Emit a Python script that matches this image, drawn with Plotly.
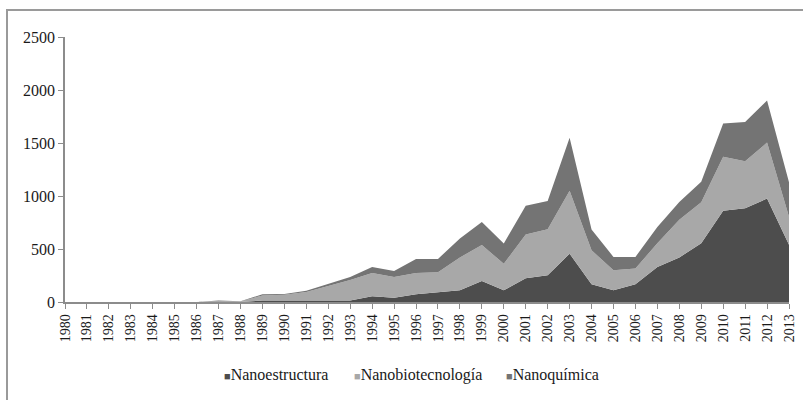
import plotly.graph_objects as go

years = list(range(1980, 2014))
nanoestructura = [0, 0, 0, 0, 0, 0, 0, 0, 0, 15, 15, 15, 15, 15,
                  54, 41, 73, 94, 112, 198, 110, 224, 252, 456, 167, 110, 167,
                  330, 420, 555, 860, 885, 976, 540]
nanobiotecnologia = [0, 0, 0, 0, 0, 0, 0, 10, 5, 47, 53, 80, 135, 193,
                     220, 195, 201, 186, 308, 340, 250, 412, 434, 594, 321, 189, 148,
                     225, 355, 385, 510, 442, 528, 265]
nanoquimica = [0, 0, 0, 0, 0, 0, 0, 5, 3, 11, 7, 10, 20, 28,
               56, 56, 132, 126, 180, 217, 191, 273, 267, 500, 195, 126, 110,
               153, 168, 195, 313, 371, 396, 325]

series = [
    ("Nanoestructura", nanoestructura, "#4d4d4d"),
    ("Nanobiotecnología", nanobiotecnologia, "#a8a8a8"),
    ("Nanoquímica", nanoquimica, "#747474"),
]
legend_ids = ["legend", "legend2", "legend3"]
legend_left_px = [184, 314, 466]

font_family = "Liberation Serif"
text_col = "#1a1a1a"
axis_col = "#8c8c8c"

fig = go.Figure()
for name, vals, col in series:
    fig.add_trace(go.Scatter(
        x=years, y=vals, name=name, stackgroup="one", mode="lines",
        line=dict(width=0, color=col), fillcolor=col, showlegend=False,
        hoverinfo="x+y+name"))
for (name, vals, col), lid in zip(series, legend_ids):
    fig.add_trace(go.Scatter(
        x=[None], y=[None], mode="markers", legend=lid,
        name=f"<span style='font-size:11px;color:{col}'>■</span>{name}",
        marker=dict(symbol="square", size=1, color="rgba(0,0,0,0)"),
        showlegend=True))

legend_common = dict(orientation="h", xref="container", yref="container",
                     xanchor="left", yanchor="middle", y=(400 - 374) / 400,
                     font=dict(family=font_family, size=16, color=text_col),
                     itemwidth=30, bgcolor="rgba(0,0,0,0)")

fig.update_layout(
    width=803, height=400,
    margin=dict(l=65, r=14, t=37, b=98, autoexpand=False),
    paper_bgcolor="white", plot_bgcolor="white",
    font=dict(family=font_family, size=14, color=text_col),
    showlegend=True,
    legend=dict(legend_common, x=legend_left_px[0] / 803),
    legend2=dict(legend_common, x=legend_left_px[1] / 803),
    legend3=dict(legend_common, x=legend_left_px[2] / 803),
    xaxis=dict(range=[1980, 2013], tickmode="array", tickvals=years,
               ticktext=[str(y) for y in years], tickangle=-90, automargin=False,
               showgrid=False, zeroline=False, showline=True, linecolor=axis_col,
               linewidth=1.5, ticks="outside", ticklen=5, tickcolor=axis_col,
               tickfont=dict(family=font_family, size=14, color=text_col)),
    yaxis=dict(range=[0, 2500], tickmode="linear", tick0=0, dtick=500, automargin=False,
               showgrid=False, zeroline=False, showline=True, linecolor=axis_col,
               linewidth=1.5, ticks="outside", ticklen=5, tickcolor=axis_col,
               tickfont=dict(family=font_family, size=16, color=text_col)),
    shapes=[dict(type="rect", xref="paper", yref="paper",
                 x0=(7 - 65) / 724, x1=(830 - 65) / 724,
                 y0=(302 - 430) / 265, y1=(302 - 10) / 265,
                 line=dict(color="#9a9a9a", width=2), fillcolor="rgba(0,0,0,0)",
                 layer="below")],
)

fig.write_html("out.html", config={"displayModeBar": False},
               post_script="document.body.style.margin='0';document.body.style.overflow='hidden';")
